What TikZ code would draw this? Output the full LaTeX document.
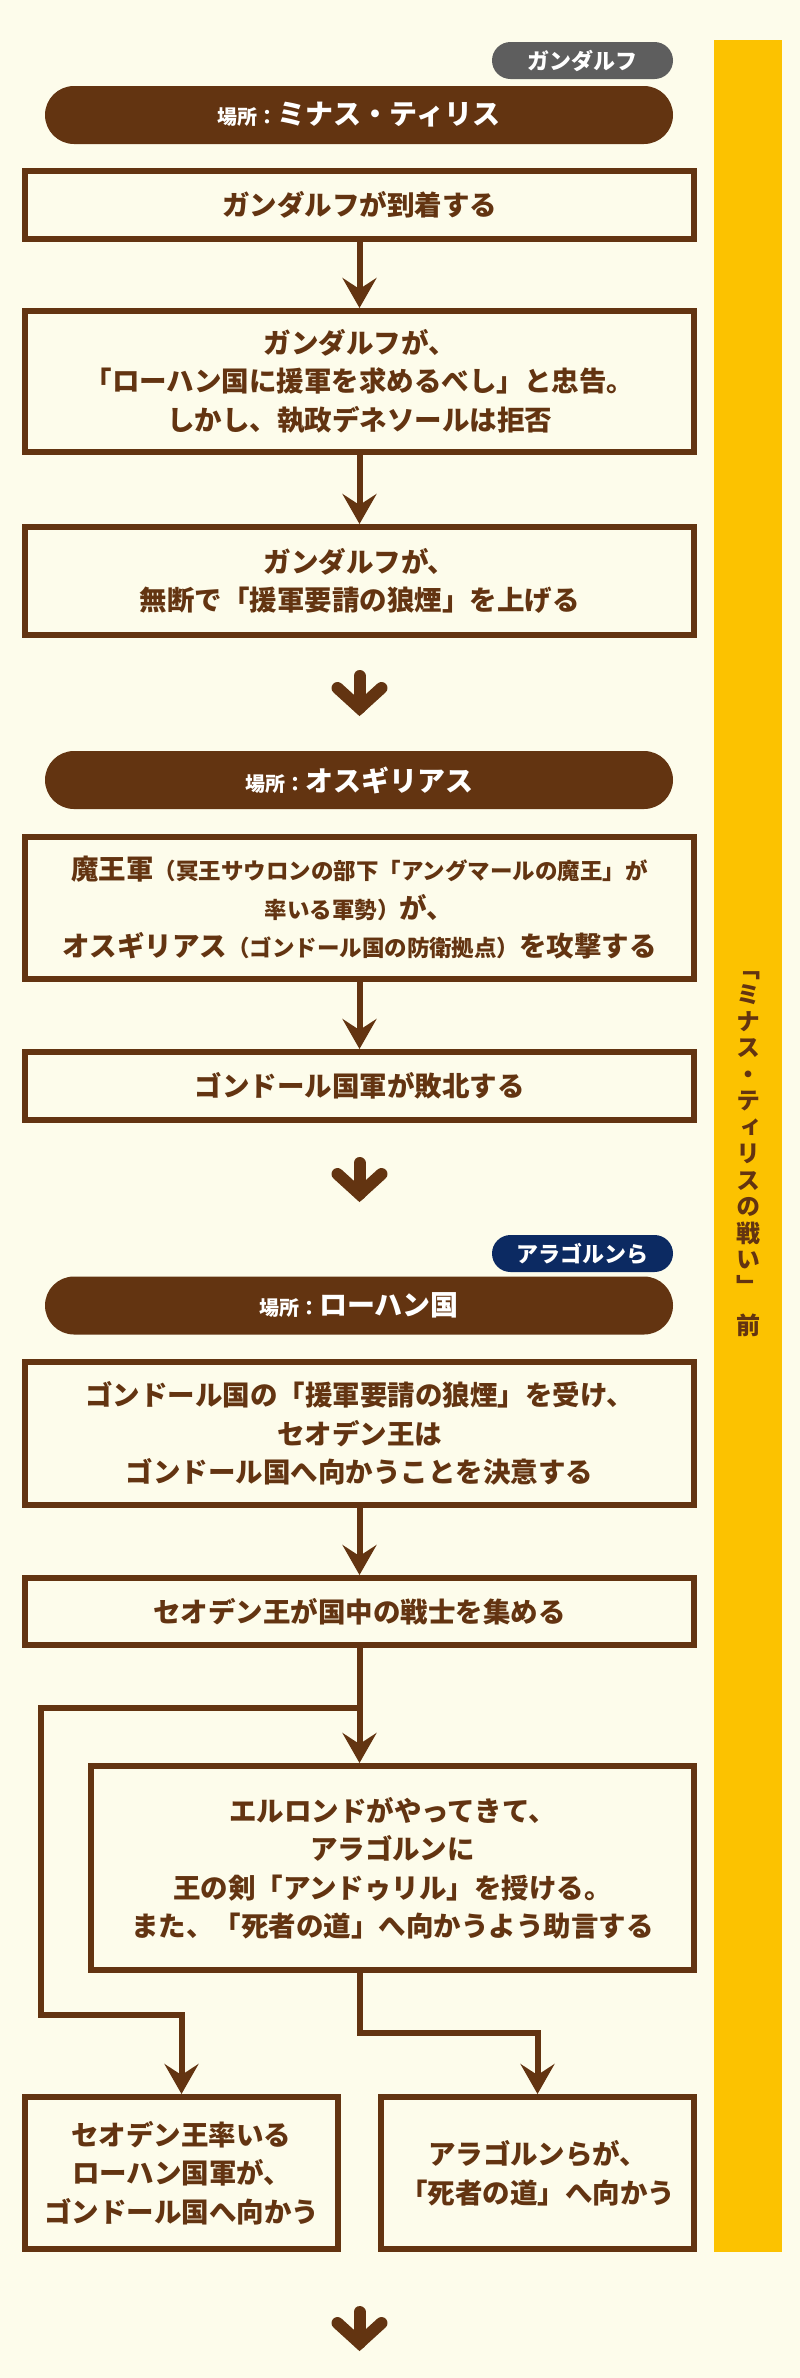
\documentclass[tikz,border=0pt]{standalone}
\usepackage{fontspec}
\setmainfont{Noto Sans CJK JP}
\newfontfamily\vfont{Noto Sans CJK JP}[RawFeature=+vert]
\usetikzlibrary{arrows.meta}
\definecolor{bgcream}{HTML}{FDFCEB}
\definecolor{brn}{HTML}{633411}
\definecolor{tgray}{HTML}{5E5E5E}
\definecolor{tnavy}{HTML}{0C2A62}
\definecolor{baryellow}{HTML}{FCC200}
\newcommand{\smtxt}[1]{{\fontsize{22.5}{38}\selectfont #1}}
\newcommand{\pltxt}[1]{{\fontsize{20}{30}\selectfont #1}}
\tikzset{
  flowbox/.style={draw=brn, line width=6pt, fill=bgcream, text=brn, align=center,
    inner sep=0pt, font=\bfseries\fontsize{27.5}{38.5}\selectfont},
  pill/.style={fill=brn, text=white, rounded corners=29pt, minimum width=628pt,
    minimum height=58pt, inner sep=0pt, font=\bfseries\fontsize{28}{30}\selectfont},
  tag/.style={text=white, rounded corners=18.5pt, minimum width=181pt,
    minimum height=37pt, inner sep=0pt, font=\bfseries\fontsize{22}{24}\selectfont},
  conn/.style={draw=brn, line width=6pt, -{Stealth[length=30pt,width=34pt,inset=11pt]}},
  plainline/.style={draw=brn, line width=6pt},
  icon/.style={draw=brn, line width=12pt, line cap=round, line join=miter}
}
\begin{document}
\begin{tikzpicture}[x=1pt,y=-1pt]
\useasboundingbox (0,0) rectangle (800,2378);
\fill[bgcream] (0,0) rectangle (800,2378);
% yellow bar
\fill[fill=baryellow] (714,40) rectangle (782,2252);
\node[text=brn, align=center, inner sep=0pt, font=\vfont\bfseries\fontsize{24}{26.5}\selectfont]
  (vlabel) at (748,1154) {「\\ミ\\ナ\\ス\\・\\テ\\ィ\\リ\\ス\\の\\戦\\い\\」\\[13pt]前};

% section 1
\node[tag, fill=tgray] (tag1) at (582.5,60.5) {ガンダルフ};
\node[pill] (pill1) at (359,115) {\pltxt{場所：}ミナス・ティリス};
\node[flowbox, minimum width=669pt, minimum height=68pt] (b1) at (359.5,205) {ガンダルフが到着する};
\node[flowbox, minimum width=669pt, minimum height=141pt] (b2) at (359.5,381.5)
  {ガンダルフが、\\「ローハン国に援軍を求めるべし」と忠告。\\しかし、執政デネソールは拒否};
\node[flowbox, minimum width=669pt, minimum height=108pt] (b3) at (359.5,581)
  {ガンダルフが、\\無断で「援軍要請の狼煙」を上げる};
\draw[conn] (b1) -- (b2);
\draw[conn] (b2) -- (b3);

% icon arrow 1
\coordinate (i1a) at (359.5,676);
\coordinate (i1b) at (359.5,708);
\draw[icon] (i1a) -- (i1b);
\draw[icon] (337.5,688) -- (i1b) -- (381.5,688);

% section 2
\node[pill] (pill2) at (359,780) {\pltxt{場所：}オスギリアス};
\node[flowbox, minimum width=669pt, minimum height=142pt] (b4) at (359.5,908)
  {魔王軍\smtxt{（冥王サウロンの部下「アングマールの魔王」が}\\\smtxt{率いる軍勢）}が、\\オスギリアス\smtxt{（ゴンドール国の防衛拠点）}を攻撃する};
\node[flowbox, minimum width=669pt, minimum height=68pt] (b5) at (359.5,1086) {ゴンドール国軍が敗北する};
\draw[conn] (b4) -- (b5);

% icon arrow 2
\coordinate (i2a) at (359.5,1163);
\coordinate (i2b) at (359.5,1194);
\draw[icon] (i2a) -- (i2b);
\draw[icon] (337.5,1174) -- (i2b) -- (381.5,1174);

% section 3
\node[tag, fill=tnavy] (tag2) at (582.5,1253.5) {アラゴルンら};
\node[pill] (pill3) at (359,1305.5) {\pltxt{場所：}ローハン国};
\node[flowbox, minimum width=669pt, minimum height=143pt] (b6) at (359.5,1433.5)
  {ゴンドール国の「援軍要請の狼煙」を受け、\\セオデン王は\\ゴンドール国へ向かうことを決意する};
\node[flowbox, minimum width=669pt, minimum height=67pt] (b7) at (359.5,1611.5) {セオデン王が国中の戦士を集める};
\draw[conn] (b6) -- (b7);

\node[flowbox, minimum width=603pt, minimum height=204pt] (b8) at (392.5,1868)
  {エルロンドがやってきて、\\アラゴルンに\\王の剣「アンドゥリル」を授ける。\\また、「死者の道」へ向かうよう助言する};
\node[flowbox, minimum width=313pt, minimum height=152pt] (b9) at (181.5,2173)
  {セオデン王率いる\\ローハン国軍が、\\ゴンドール国へ向かう};
\node[flowbox, minimum width=313pt, minimum height=152pt] (b10) at (537.5,2173)
  {アラゴルンらが、\\「死者の道」へ向かう};

\coordinate (j1) at (359.5,1708);
\coordinate (l1) at (41,1708);
\coordinate (l2) at (41,2015);
\coordinate (r1) at (359.5,2033);
\draw[plainline] (b7.south) -- (j1);
\draw[conn] (j1) -- (j1 |- b8.north);
\draw[conn, line join=miter] (j1) -- (l1) -- (l2) -| (b9.north);
\draw[conn, line join=miter] (j1 |- b8.south) -- (r1) -| (b10.north);

% icon arrow 3
\coordinate (i3a) at (359.5,2312);
\coordinate (i3b) at (359.5,2343);
\draw[icon] (i3a) -- (i3b);
\draw[icon] (337.5,2323) -- (i3b) -- (381.5,2323);
\end{tikzpicture}
\end{document}
